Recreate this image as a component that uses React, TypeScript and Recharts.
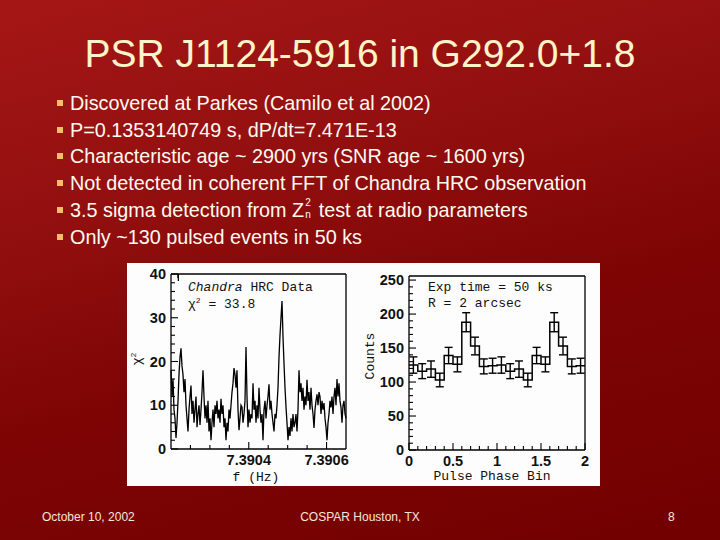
import React from 'react';
import { LineChart, Line, XAxis, YAxis, ComposedChart, Scatter, ErrorBar } from 'recharts';

// Z^2 / chi^2 periodogram around the radio frequency (one value per frequency step)
const chiFreqStart = 7.3902;
const chiFreqEnd = 7.39065;
const chiValues = [
  18, 12, 16, 9, 7, 2.5, 6, 11, 17, 21,
  23, 19, 17, 13, 16, 10, 7, 4, 9, 12,
  14.5, 8, 11, 6, 9, 12, 5, 8, 10, 5.5,
  9, 13, 18, 12, 7, 10, 6, 11, 4, 7,
  2, 6, 9, 5, 10, 8, 11, 7, 9, 6,
  11.5, 8, 10, 5, 7, 2, 6, 4, 9, 7,
  10, 13, 15, 18.5, 17, 14, 18, 9, 4.3, 7,
  10, 9.6, 6, 8, 11, 23.3, 12, 5, 9, 6,
  8, 7, 15, 9, 11, 6, 10, 7, 14, 9,
  6, 8, 2, 9, 11, 7, 10, 12, 14.8, 9,
  11, 8, 6, 4, 8, 7, 10, 14, 21, 26,
  30, 33.8, 25.6, 19.6, 14, 9.6, 6, 2, 5, 3,
  7, 4, 8, 5, 6, 8, 4, 9, 18, 13,
  15, 11, 14, 9, 12, 10, 15.8, 11, 13, 9,
  14, 10, 8, 4.8, 9, 11, 12.5, 10, 13, 12,
  8, 11, 9, 10.5, 7, 5, 2, 6, 8, 11,
  9.5, 12, 8, 12, 14, 10, 16, 12, 15, 11,
  9.5, 6, 10, 11, 8, 7,
];
const chiXTicks = [7.39025, 7.3903, 7.39035, 7.3904, 7.39045, 7.3905, 7.39055, 7.3906];
const chiXLabels = [7.3904, 7.3906];
const chiYTicks = [0, 2, 4, 6, 8, 10, 12, 14, 16, 18, 20, 22, 24, 26, 28, 30, 32, 34, 36, 38, 40];
const chiYLabels = [0, 10, 20, 30, 40];

// folded light curve, two cycles
const phaseCenters = [
  0.05, 0.15, 0.25, 0.35, 0.45, 0.55, 0.65, 0.75, 0.85, 0.95,
  1.05, 1.15, 1.25, 1.35, 1.45, 1.55, 1.65, 1.75, 1.85, 1.95,
];
const phaseCounts = [
  125, 116, 119, 103, 139, 126, 188, 153, 123, 124,
  125, 116, 119, 103, 139, 126, 188, 153, 123, 124,
];
const phaseErrors = [
  12, 11, 12, 10, 12, 11, 14, 13, 11, 11,
  12, 11, 12, 10, 12, 11, 14, 13, 11, 11,
];
const phaseXTicks = [0, 0.1, 0.2, 0.3, 0.4, 0.5, 0.6, 0.7, 0.8, 0.9, 1, 1.1, 1.2, 1.3, 1.4, 1.5, 1.6, 1.7, 1.8, 1.9, 2];
const phaseXLabels = [0, 0.5, 1, 1.5, 2];
const phaseYTicks = [0, 10, 20, 30, 40, 50, 60, 70, 80, 90, 100, 110, 120, 130, 140, 150, 160, 170, 180, 190, 200, 210, 220, 230, 240, 250];
const phaseYLabels = [0, 50, 100, 150, 200, 250];

const bullets = [
  'Discovered at Parkes (Camilo et al 2002)',
  'P=0.1353140749 s, dP/dt=7.471E-13',
  'Characteristic age ~ 2900 yrs (SNR age ~ 1600 yrs)',
  'Not detected in coherent FFT of Chandra HRC observation',
  'ZN',
  'Only ~130 pulsed events in 50 ks',
];

const chiData = chiValues.map((v, i) => ({
  f: chiFreqStart + (i * (chiFreqEnd - chiFreqStart)) / (chiValues.length - 1),
  chi: v,
}));
const histData = [
  ...phaseCenters.map((c, i) => ({ x: c - 0.05, y: phaseCounts[i] })),
  { x: 2, y: phaseCounts[phaseCounts.length - 1] },
];
const errData = phaseCenters.map((c, i) => ({ x: c, y: phaseCounts[i], err: phaseErrors[i] }));

const near = (list: number[], v: number) => list.some((t) => Math.abs(t - v) < 1e-7);
const tickFont = { fontFamily: 'Liberation Sans, Arial, sans-serif', fontWeight: 700, fontSize: 14.5, fill: '#111' };

// axes are 1px boxes; tick lines point into the plot, labels sit outside
function makeTick(side: 'bottom' | 'top' | 'left' | 'right', majors: number[], fmt?: (v: number) => string) {
  return (props: any) => {
    const { x, y, payload } = props;
    const major = near(majors, payload.value);
    const len = major ? 7 : 4;
    if (side === 'bottom') {
      return (
        <g>
          <line x1={x} x2={x} y1={y} y2={y - len} stroke="#000" strokeWidth={1.1} />
          {major && fmt && (
            <text x={x} y={y + 16} textAnchor="middle" {...tickFont}>{fmt(payload.value)}</text>
          )}
        </g>
      );
    }
    if (side === 'top') {
      return <line x1={x} x2={x} y1={y} y2={y + len} stroke="#000" strokeWidth={1.1} />;
    }
    if (side === 'left') {
      return (
        <g>
          <line x1={x} x2={x + len} y1={y} y2={y} stroke="#000" strokeWidth={1.1} />
          {major && fmt && (
            <text x={x - 5} y={y + 5} textAnchor="end" {...tickFont}>{fmt(payload.value)}</text>
          )}
        </g>
      );
    }
    return <line x1={x} x2={x - len} y1={y} y2={y} stroke="#000" strokeWidth={1.1} />;
  };
}

const axisLine = { stroke: '#000', strokeWidth: 1.3 };

const monoText: React.CSSProperties = {
  position: 'absolute',
  fontFamily: 'Liberation Mono, DejaVu Sans Mono, monospace',
  fontSize: 13,
  color: '#111',
  whiteSpace: 'nowrap',
  lineHeight: 1,
};

function ChiChart() {
  return (
    <LineChart
      width={228}
      height={222}
      data={chiData}
      margin={{ top: 10, right: 8, bottom: 35, left: 43 }}
    >
      <XAxis
        dataKey="f"
        type="number"
        domain={[chiFreqStart, chiFreqEnd]}
        ticks={chiXTicks}
        interval={0}
        height={1}
        tickSize={0}
        tickMargin={0}
        tickLine={false}
        axisLine={axisLine}
        tick={makeTick('bottom', chiXLabels, (v) => v.toFixed(4))}
      />
      <XAxis
        xAxisId="top"
        orientation="top"
        type="number"
        domain={[chiFreqStart, chiFreqEnd]}
        ticks={chiXTicks}
        interval={0}
        height={1}
        tickSize={0}
        tickMargin={0}
        tickLine={false}
        axisLine={axisLine}
        tick={makeTick('top', chiXLabels)}
      />
      <YAxis
        type="number"
        domain={[0, 40]}
        ticks={chiYTicks}
        interval={0}
        width={1}
        tickSize={0}
        tickMargin={0}
        tickLine={false}
        axisLine={axisLine}
        tick={makeTick('left', chiYLabels, (v) => String(v))}
      />
      <YAxis
        yAxisId="right"
        orientation="right"
        type="number"
        domain={[0, 40]}
        ticks={chiYTicks}
        interval={0}
        width={1}
        tickSize={0}
        tickMargin={0}
        tickLine={false}
        axisLine={axisLine}
        tick={makeTick('right', chiYLabels)}
      />
      <Line
        type="linear"
        dataKey="chi"
        stroke="#000"
        strokeWidth={1.3}
        dot={false}
        isAnimationActive={false}
      />
    </LineChart>
  );
}

function PhaseChart() {
  return (
    <ComposedChart width={245} height={222} margin={{ top: 12, right: 14, bottom: 34, left: 53 }}>
      <XAxis
        dataKey="x"
        type="number"
        domain={[0, 2]}
        ticks={phaseXTicks}
        interval={0}
        height={1}
        tickSize={0}
        tickMargin={0}
        tickLine={false}
        axisLine={axisLine}
        tick={makeTick('bottom', phaseXLabels, (v) => String(v))}
      />
      <XAxis
        xAxisId="top"
        orientation="top"
        type="number"
        domain={[0, 2]}
        ticks={phaseXTicks}
        interval={0}
        height={1}
        tickSize={0}
        tickMargin={0}
        tickLine={false}
        axisLine={axisLine}
        tick={makeTick('top', phaseXLabels)}
      />
      <YAxis
        type="number"
        domain={[0, 256]}
        ticks={phaseYTicks}
        interval={0}
        width={1}
        tickSize={0}
        tickMargin={0}
        tickLine={false}
        axisLine={axisLine}
        tick={makeTick('left', phaseYLabels, (v) => String(v))}
      />
      <YAxis
        yAxisId="right"
        orientation="right"
        type="number"
        domain={[0, 256]}
        ticks={phaseYTicks}
        interval={0}
        width={1}
        tickSize={0}
        tickMargin={0}
        tickLine={false}
        axisLine={axisLine}
        tick={makeTick('right', phaseYLabels)}
      />
      <Line
        data={histData}
        type="stepAfter"
        dataKey="y"
        stroke="#000"
        strokeWidth={1.5}
        dot={false}
        isAnimationActive={false}
      />
      <Scatter data={errData} dataKey="y" shape={() => <g />} isAnimationActive={false}>
        <ErrorBar dataKey="err" direction="y" width={4} stroke="#000" strokeWidth={1.4} isAnimationActive={false} />
      </Scatter>
    </ComposedChart>
  );
}

export default function App() {
  return (
    <div
      style={{
        position: 'absolute',
        left: 0,
        top: 0,
        width: 720,
        height: 540,
        overflow: 'hidden',
        background: 'linear-gradient(165deg, #a51616 0%, #941010 30%, #7e0404 60%, #720000 100%)',
        fontFamily: 'Liberation Sans, Arial, sans-serif',
      }}
    >
      <div
        style={{
          position: 'absolute',
          left: 0,
          width: 720,
          top: 30,
          textAlign: 'center',
          fontSize: 39,
          color: '#fff4c8',
          lineHeight: '48px',
        }}
      >
        PSR J1124-5916 in G292.0+1.8
      </div>

      {bullets.map((b, i) => (
        <div key={i} style={{ position: 'absolute', left: 0, top: 90 + i * 26.7, height: 26, width: 720 }}>
          <div
            style={{ position: 'absolute', left: 57, top: 10, width: 6, height: 6, background: '#f3c06a' }}
          />
          <div
            style={{
              position: 'absolute',
              left: 70,
              top: 0,
              fontSize: 19.8,
              lineHeight: '26px',
              color: '#fffaf0',
              whiteSpace: 'nowrap',
            }}
          >
            {b === 'ZN' ? (
              <>
                3.5 sigma detection from Z
                <span style={{ position: 'relative', display: 'inline-block', width: 9, height: 20, verticalAlign: 'top' }}>
                  <span style={{ position: 'absolute', left: 1, top: 1, fontSize: 10, lineHeight: '10px' }}>2</span>
                  <span style={{ position: 'absolute', left: 1, top: 13, fontSize: 10, lineHeight: '10px' }}>n</span>
                </span>
                {' '}test at radio parameters
              </>
            ) : (
              b
            )}
          </div>
        </div>
      ))}

      <div style={{ position: 'absolute', left: 127, top: 263, width: 473, height: 223, background: '#fdfdfd' }} />
      <div style={{ position: 'absolute', left: 127, top: 263 }}>
        <ChiChart />
      </div>
      <div style={{ position: 'absolute', left: 355, top: 263 }}>
        <PhaseChart />
      </div>

      <div style={{ ...monoText, left: 188, top: 281 }}>
        <i>Chandra</i> HRC Data
      </div>
      <div style={{ ...monoText, left: 188, top: 297 }}>
        χ<sup style={{ fontSize: 8 }}>2</sup> = 33.8
      </div>
      <div style={{ ...monoText, left: 137, top: 359, transform: 'translate(-50%,-50%) rotate(-90deg)' }}>
        χ<sup style={{ fontSize: 8 }}>2</sup>
      </div>
      <div style={{ ...monoText, left: 256, top: 477, transform: 'translate(-50%,-50%)' }}>f (Hz)</div>

      <div style={{ ...monoText, left: 428, top: 281 }}>Exp time = 50 ks</div>
      <div style={{ ...monoText, left: 428, top: 297 }}>R = 2 arcsec</div>
      <div style={{ ...monoText, left: 370, top: 356, transform: 'translate(-50%,-50%) rotate(-90deg)' }}>
        Counts
      </div>
      <div style={{ ...monoText, left: 492, top: 476, transform: 'translate(-50%,-50%)' }}>
        Pulse Phase Bin
      </div>

      <div style={{ position: 'absolute', left: 42, top: 510, fontSize: 12, color: '#f4e6dc' }}>October 10, 2002</div>
      <div
        style={{ position: 'absolute', left: 0, width: 720, top: 510, textAlign: 'center', fontSize: 12, color: '#f4e6dc' }}
      >
        COSPAR Houston, TX
      </div>
      <div style={{ position: 'absolute', left: 668, top: 510, fontSize: 12, color: '#f4e6dc' }}>8</div>
    </div>
  );
}
